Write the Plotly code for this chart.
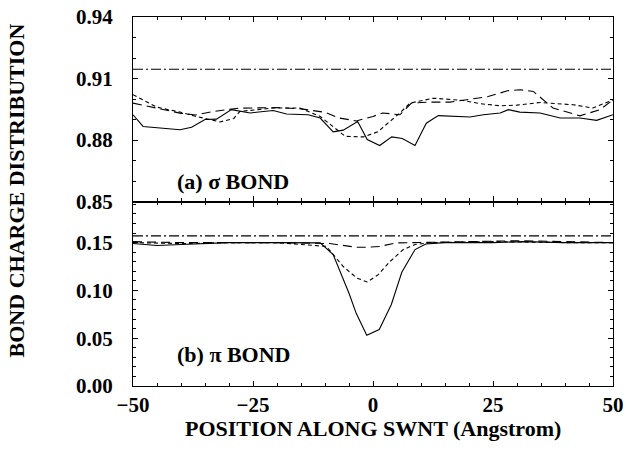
import plotly.graph_objects as go

# ---------------- data ----------------
# (a) sigma bond
sig_solid_x = [-50, -47.9, -40.2, -37.8, -35, -32.6, -29.5, -25.6, -20.8, -18, -13.5, -11,
               -8.3, -6.2, -3.2, -1.2, 1.4, 3.9, 6.1, 8.75, 11.1, 13.6, 20.2, 23, 26.5,
               28.2, 30.6, 34.8, 39, 43.1, 46.6, 50]
sig_solid_y = [0.8923, 0.8866, 0.8850, 0.8862, 0.8900, 0.8902, 0.8948, 0.8932, 0.8944, 0.8927,
               0.8923, 0.8907, 0.8840, 0.8848, 0.8890, 0.8802, 0.8773, 0.8815, 0.8807, 0.8773,
               0.8882, 0.8919, 0.8912, 0.8923, 0.8932, 0.8948, 0.8936, 0.8932, 0.8907, 0.8907,
               0.8896, 0.8923]

sig_short_x = [-50, -45, -40, -37.4, -34, -31.9, -29, -27.7, -24, -20.8, -15.2, -11, -5.8, -2,
               1, 5.6, 7.7, 12.6, 18.8, 22.3, 26.5, 30, 34.8, 41.7, 45.8, 50]
sig_short_y = [0.9021, 0.8960, 0.8935, 0.8918, 0.8900, 0.8888, 0.8905, 0.8940, 0.8948, 0.8956,
               0.8956, 0.8915, 0.8818, 0.8815, 0.8840, 0.8932, 0.8980, 0.9004, 0.8993, 0.8977,
               0.8967, 0.8970, 0.8983, 0.8972, 0.8956, 0.8996]

sig_long_x = [-50, -45, -40, -37, -33, -28, -20, -15, -10, -7, -3.5, 0, 2, 5.6, 8, 12, 16,
              19.5, 24, 28, 30.6, 33.4, 37.5, 43.1, 47.3, 50]
sig_long_y = [0.8980, 0.8955, 0.8930, 0.8922, 0.8940, 0.8955, 0.8958, 0.8952, 0.8935, 0.8907,
              0.8893, 0.8915, 0.8932, 0.8923, 0.8980, 0.8985, 0.8985, 0.8996, 0.9012, 0.9040,
              0.9045, 0.9037, 0.8956, 0.8918, 0.8948, 0.8996]

sig_ref_x = [-50, 50]
sig_ref_y = [0.9145, 0.9145]

# (b) pi bond
pi_solid_x = [-50, -45, -40, -35, -30, -20, -11, -8.3, -5, -3.5, -1.3, 1.3, 3.8, 6, 8.75,
              11, 15, 25, 31, 40, 50]
pi_solid_y = [0.149, 0.147, 0.148, 0.149, 0.150, 0.150, 0.1497, 0.1375, 0.097, 0.076, 0.053,
              0.059, 0.085, 0.119, 0.1427, 0.1485, 0.150, 0.150, 0.151, 0.150, 0.150]

pi_short_x = [-50, -40, -30, -20, -9.7, -6.2, -3.4, -1.2, 1.1, 3.5, 6.3, 8.75, 12, 25, 40, 50]
pi_short_y = [0.150, 0.149, 0.150, 0.150, 0.146, 0.125, 0.113, 0.1088, 0.1165, 0.130, 0.1427,
              0.148, 0.150, 0.151, 0.150, 0.150]

pi_long_x = [-50, -40, -30, -20, -9, -3.4, -1.2, 1.4, 4.9, 10, 20, 31, 40, 50]
pi_long_y = [0.151, 0.150, 0.150, 0.150, 0.149, 0.1451, 0.1451, 0.146, 0.1497, 0.150, 0.151,
             0.152, 0.151, 0.150]

pi_ref_x = [-50, 50]
pi_ref_y = [0.157, 0.157]

x_ticks = [-50, -25, 0, 25, 50]
top_ticks = [0.85, 0.88, 0.91, 0.94]
bot_ticks = [0.00, 0.05, 0.10, 0.15]

# ---------------- figure ----------------
FONT = "Liberation Serif"
fig = go.Figure()

def add(x, y, dash, xa, ya):
    fig.add_trace(go.Scatter(x=x, y=y, mode="lines", xaxis=xa, yaxis=ya,
                             line=dict(color="black", width=1.1, dash=dash),
                             showlegend=False, hoverinfo="skip"))

add(sig_ref_x, sig_ref_y, "10px,3px,2px,3px", "x2", "y")
add(sig_long_x, sig_long_y, "9px,5px", "x2", "y")
add(sig_short_x, sig_short_y, "4px,3px", "x2", "y")
add(sig_solid_x, sig_solid_y, "solid", "x2", "y")

add(pi_ref_x, pi_ref_y, "10px,3px,2px,3px", "x", "y2")
add(pi_long_x, pi_long_y, "9px,5px", "x", "y2")
add(pi_short_x, pi_short_y, "4px,3px", "x", "y2")
add(pi_solid_x, pi_solid_y, "solid", "x", "y2")

tickfont = dict(family=FONT, size=21, color="black", weight="bold")
common_x = dict(range=[-50, 50], tickvals=x_ticks, ticks="inside", ticklen=5, tickwidth=1,
                tickcolor="black", showline=True, linecolor="black", linewidth=1.3,
                mirror="ticks", showgrid=False, zeroline=False, automargin=False,
                ticklabeloverflow="allow",
                minor=dict(dtick=5, tick0=0, ticks="inside", ticklen=3, tickcolor="black",
                           showgrid=False))
common_y = dict(ticks="inside", ticklen=5, tickwidth=1, tickcolor="black", showline=True,
                linecolor="black", linewidth=1.3, mirror="ticks", showgrid=False,
                zeroline=False, tickformat=".2f", tickfont=tickfont, ticklabelstandoff=15,
                automargin=False, ticklabeloverflow="allow")

fig.update_layout(
    template="none",
    width=626, height=451,
    margin=dict(l=133, r=13, t=17, b=65, autoexpand=False),
    paper_bgcolor="white", plot_bgcolor="white",
    xaxis=dict(domain=[0, 1], anchor="y2", tickfont=tickfont, ticklabelstandoff=0,
               **common_x),
    xaxis2=dict(domain=[0, 1], anchor="y", matches="x", showticklabels=False, **common_x),
    yaxis=dict(domain=[0.5, 1], anchor="x2", range=[0.85, 0.94], tickvals=top_ticks,
               minor=dict(dtick=0.01, tick0=0.85, ticks="inside", ticklen=3,
                          tickcolor="black", showgrid=False), **common_y),
    yaxis2=dict(domain=[0, 0.5], anchor="x", range=[0, 0.193], tickvals=bot_ticks,
                minor=dict(dtick=0.01, tick0=0, ticks="inside", ticklen=3,
                           tickcolor="black", showgrid=False), **common_y),
    annotations=[
        dict(text="<b>(a) σ BOND</b>", x=-41.3, y=0.860, xref="x2", yref="y",
             xanchor="left", yanchor="middle", showarrow=False,
             font=dict(family=FONT, size=22, color="black")),
        dict(text="<b>(b) π BOND</b>", x=-41.3, y=0.0325, xref="x", yref="y2",
             xanchor="left", yanchor="middle", showarrow=False,
             font=dict(family=FONT, size=22, color="black")),
        dict(text="<b>POSITION ALONG SWNT (Angstrom)</b>", x=0.5, y=-0.116,
             xref="paper", yref="paper", xanchor="center", yanchor="middle",
             showarrow=False, font=dict(family=FONT, size=22, color="black")),
        dict(text="<b>BOND CHARGE DISTRIBUTION</b>", x=-0.243, y=0.531,
             xref="paper", yref="paper", xanchor="center", yanchor="middle",
             textangle=-90, showarrow=False,
             font=dict(family=FONT, size=22, color="black")),
    ],
)

# remove the browser's default 8px body margin so the figure fills the window exactly
fig.write_html("out.html",
               config={"displayModeBar": False},
               post_script="document.body.style.margin='0';document.body.style.overflow='hidden';")
